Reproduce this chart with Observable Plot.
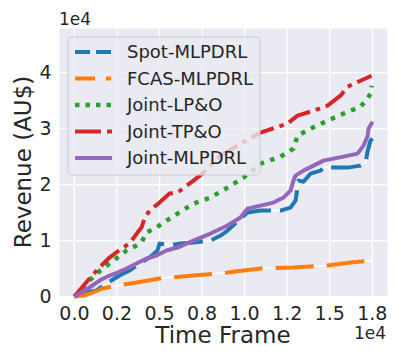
<!DOCTYPE html>
<html>
<head>
<meta charset="utf-8">
<script src="https://cdn.jsdelivr.net/npm/d3@7"></script>
<script src="https://cdn.jsdelivr.net/npm/@observablehq/plot@0.6"></script>
<style>
  html, body { margin: 0; padding: 0; background: white; }
</style>
</head>
<body>
<div id="chart"></div>
<script>
// ---- data ----
const seriesNames = ["Spot-MLPDRL", "FCAS-MLPDRL", "Joint-LP&O", "Joint-TP&O", "Joint-MLPDRL"];
const seriesColors = ["#1f77b4", "#ff7f0e", "#2ca02c", "#d62728", "#9467bd"];

const spotT = [0, 711, 1299, 1886, 2650, 3237, 3825, 4413, 4883, 5000, 5646, 6234, 6998, 7997, 8584, 8995, 9759, 10171, 10934, 12110, 12697, 12991, 13108, 13167, 13461, 13872, 14460, 14636, 16046, 16810, 17104, 17221, 17397, 17515];
const spotV = [0, 714, 1071, 2321, 3750, 4643, 5893, 6964, 8214, 9464, 9200, 9464, 9643, 10000, 10893, 11786, 13929, 15000, 15357, 15357, 15893, 17143, 19464, 20714, 20500, 21964, 22500, 23036, 23036, 23393, 23929, 25893, 27857, 28214];

const fcasT = [0, 593, 1063, 1651, 2474, 3649, 5000, 6998, 8995, 10934, 12873, 14871, 16222, 17515];
const fcasV = [0, 179, 714, 1429, 1964, 2500, 3214, 3750, 4286, 5000, 5179, 5536, 6071, 6429];

const lpoT = [0, 711, 1299, 2062, 2532, 3061, 3649, 3942, 4236, 4824, 5411, 6058, 6998, 7997, 8995, 9935, 10934, 12110, 12873, 13108, 13872, 14871, 15811, 16810, 17221, 17397, 17456];
const lpoV = [0, 2321, 4107, 5893, 6964, 8214, 9107, 9643, 11429, 12321, 13571, 14821, 16607, 17679, 19464, 21250, 23750, 25000, 26429, 28750, 30000, 31429, 32679, 33929, 35357, 36250, 37679];

const tpoT = [0, 887, 1475, 2062, 2767, 3237, 3707, 3942, 4119, 4413, 5000, 5588, 6058, 6998, 7585, 8584, 9759, 10934, 12520, 13108, 14048, 14871, 15634, 16046, 16810, 17456];
const tpoV = [0, 3214, 5178, 6964, 8571, 9464, 11429, 12321, 13929, 15357, 16786, 18393, 18571, 20714, 22143, 25179, 27321, 29286, 30893, 32321, 33214, 34107, 35893, 37500, 38571, 39464];

const mlpT = [0, 300, 887, 1475, 2062, 2532, 3061, 3649, 4236, 4824, 5411, 6058, 6998, 7997, 8995, 9759, 10171, 10934, 11698, 12285, 12697, 12873, 12991, 13461, 14048, 14636, 15811, 16633, 16986, 17221, 17280, 17515];
const mlpV = [0, 536, 1607, 2857, 3750, 4286, 5000, 5893, 6786, 7321, 8214, 8750, 10000, 11250, 12679, 14107, 15714, 16250, 16786, 17679, 18929, 20714, 21607, 22500, 23393, 24286, 25000, 25536, 26964, 28571, 30000, 31250];

const xTicks = [0, 2500, 5000, 7500, 10000, 12500, 15000, 17500];
const xTickLabels = ["0.0", "0.2", "0.5", "0.8", "1.0", "1.2", "1.5", "1.8"];
const yTicks = [0, 10000, 20000, 30000, 40000];
const yTickLabels = ["0", "1", "2", "3", "4"];

// ---- build tables ----
const toRows = (T, V) => T.map((t, i) => ({t, v: V[i]}));
const spot = toRows(spotT, spotV);
const fcas = toRows(fcasT, fcasV);
const lpo = toRows(lpoT, lpoV);
const tpo = toRows(tpoT, tpoV);
const mlp = toRows(mlpT, mlpV);

const xLab = new Map(xTicks.map((d, i) => [d, xTickLabels[i]]));
const yLab = new Map(yTicks.map((d, i) => [d, yTickLabels[i]]));

const FONT = "DejaVu Sans, sans-serif";
const TXT = "#262626";

const lineOpts = {x: "t", y: "v", strokeLinecap: "butt", strokeLinejoin: "round"};

const chart = Plot.plot({
  width: 399,
  height: 363,
  marginLeft: 59,
  marginRight: 12,
  marginTop: 28,
  marginBottom: 67,
  x: {domain: [-876, 18396]},
  y: {domain: [0, 47900]},
  style: {fontFamily: FONT, background: "white", color: TXT, overflow: "visible"},
  marks: [
    Plot.frame({fill: "#EAEAF2", stroke: null}),
    Plot.gridX(xTicks, {stroke: "white", strokeOpacity: 1, strokeWidth: 1.2}),
    Plot.gridY(yTicks, {stroke: "white", strokeOpacity: 1, strokeWidth: 1.2}),
    Plot.axisX(xTicks, {tickSize: 0, tickPadding: 10, fontSize: 19, label: null, tickFormat: d => xLab.get(d), fill: TXT}),
    Plot.axisY(yTicks, {tickSize: 0, tickPadding: 8, fontSize: 19, label: null, tickFormat: d => yLab.get(d), fill: TXT}),
    // thin white underlines seen in the gaps of the blue and orange dashes
    Plot.line(spot, {...lineOpts, stroke: "white", strokeWidth: 1.5}),
    Plot.line(spot, {...lineOpts, stroke: seriesColors[0], strokeWidth: 4, strokeDasharray: "30,9"}),
    Plot.line(fcas, {...lineOpts, stroke: "white", strokeWidth: 1.5}),
    Plot.line(fcas, {...lineOpts, stroke: seriesColors[1], strokeWidth: 4, strokeDasharray: "38,13"}),
    Plot.line(lpo, {...lineOpts, stroke: seriesColors[2], strokeWidth: 4.5, strokeDasharray: "4.5,6.5"}),
    Plot.line(tpo, {...lineOpts, stroke: seriesColors[3], strokeWidth: 4, strokeDasharray: "24,6,4.5,6"}),
    Plot.line(mlp, {...lineOpts, stroke: seriesColors[4], strokeWidth: 4})
  ]
});

const svg = d3.select(chart);

// offset texts
svg.append("text").attr("x", 59).attr("y", 25).attr("font-size", 17).attr("fill", TXT)
  .attr("font-family", FONT).attr("text-anchor", "start").text("1e4");
svg.append("text").attr("x", 386).attr("y", 339).attr("font-size", 17).attr("fill", TXT)
  .attr("font-family", FONT).attr("text-anchor", "end").text("1e4");

// axis labels
svg.append("text").attr("x", 223).attr("y", 343).attr("font-size", 23).attr("fill", TXT)
  .attr("font-family", FONT).attr("text-anchor", "middle").text("Time Frame");
svg.append("text").attr("transform", "translate(31,162) rotate(-90)").attr("font-size", 23)
  .attr("fill", TXT).attr("font-family", FONT).attr("text-anchor", "middle").text("Revenue (AU$)");

// legend
const lg = svg.append("g");
lg.append("rect").attr("x", 68).attr("y", 37).attr("width", 192).attr("height", 138)
  .attr("rx", 4).attr("fill", "#EAEAF2").attr("fill-opacity", 0.8)
  .attr("stroke", "#cccccc").attr("stroke-width", 1);
const handleDash = ["15,6", "20,11,5,11", "4.5,6", "26,6,5,6", null];
const handleW = [4, 4, 4.5, 4, 4];
seriesNames.forEach((name, i) => {
  const cy = 52 + i * 26.5;
  const ln = lg.append("line").attr("x1", 75).attr("x2", 112).attr("y1", cy).attr("y2", cy)
    .attr("stroke", seriesColors[i]).attr("stroke-width", handleW[i]).attr("stroke-linecap", "butt");
  if (handleDash[i]) ln.attr("stroke-dasharray", handleDash[i]);
  lg.append("text").attr("x", 127).attr("y", cy).attr("dy", "0.36em").attr("font-size", 18)
    .attr("fill", TXT).attr("font-family", FONT).attr("text-anchor", "start").text(name);
});

document.getElementById("chart").appendChild(chart);
</script>
</body>
</html>
